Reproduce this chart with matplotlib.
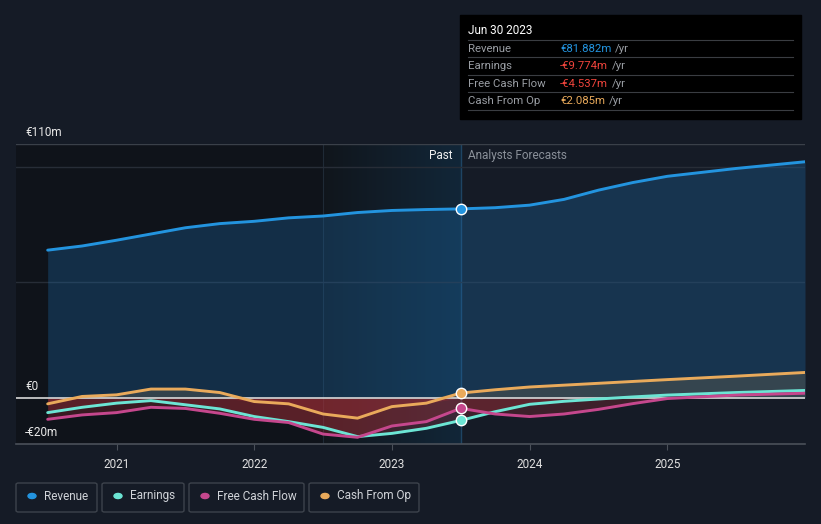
import numpy as np
import matplotlib
matplotlib.use('Agg')
import matplotlib.pyplot as plt
from matplotlib.patches import Rectangle, FancyBboxPatch, Circle
from matplotlib.lines import Line2D

plt.rcParams['font.family'] = ['Roboto', 'DejaVu Sans']

# quarterly history (fractional years) and forecast
past_t = [2020.5, 2020.75, 2021.0, 2021.25, 2021.5, 2021.75, 2022.0,
          2022.25, 2022.5, 2022.75, 2023.0, 2023.25, 2023.5]
revenue_past = [64.0, 65.8, 68.3, 71.0, 73.7, 75.5, 76.5, 78.0, 78.8, 80.3, 81.2, 81.6, 81.882]
earnings_past = [-6.4, -4.1, -2.3, -1.2, -3.0, -4.8, -8.1, -10.3, -12.8, -16.8, -15.4, -13.2, -9.774]
fcf_past = [-9.3, -7.4, -6.4, -4.1, -4.6, -6.7, -9.3, -10.7, -15.7, -17.1, -12.2, -10.3, -4.537]
cfo_past = [-2.6, 0.6, 1.3, 3.8, 3.8, 2.3, -1.6, -2.6, -7.0, -8.8, -3.8, -2.3, 2.085]

fc_t = [2023.5, 2023.75, 2024.0, 2024.25, 2024.5, 2024.75, 2025.0, 2025.5, 2026.0]
revenue_fc = [81.882, 82.4, 83.5, 86.0, 90.0, 93.3, 96.0, 99.4, 102.3]
earnings_fc = [-9.774, -6.0, -2.8, -1.5, -0.5, 0.4, 1.2, 2.3, 3.2]
fcf_fc = [-4.537, -7.0, -8.1, -7.0, -5.0, -2.5, -0.3, 1.2, 2.0]
cfo_fc = [2.085, 3.5, 4.7, 5.5, 6.3, 7.1, 7.9, 9.4, 11.0]

year_ticks = [2021, 2022, 2023, 2024, 2025]
names = ['Revenue', 'Earnings', 'Free Cash Flow', 'Cash From Op']
colors = ['#2394df', '#6ce5d4', '#c5478d', '#e9aa5b']
tip_vals = ['€81.882m', '-€9.774m', '-€4.537m', '€2.085m']
tip_cols = ['#2394df', '#f0443c', '#f0443c', '#e9aa5b']

bg = '#151b26'
fig = plt.figure(figsize=(8.21, 5.24), dpi=100, facecolor=bg)
ax = fig.add_axes([16 / 821, 1 - 444 / 524, 789 / 821, 300 / 524])
ax.set_facecolor(bg)
xmin, xmax = 2020.27, 2026.0
ax.set_xlim(xmin, xmax)
ax.set_ylim(-20, 110)

# darker past background and highlighted last year
ax.axvspan(xmin, 2023.5, color='#0f131a', zorder=0, lw=0)
grad = np.linspace(0, 1, 256).reshape(1, -1)
cmap = matplotlib.colors.LinearSegmentedColormap.from_list(
    'hl', [(0.065, 0.085, 0.11, 1.0), (0.07, 0.15, 0.22, 1.0)])
ax.imshow(grad, extent=[2022.5, 2023.5, -20, 110], aspect='auto', cmap=cmap,
          zorder=0.5, interpolation='bicubic')
ax.axvline(2022.5, color='#1f2a36', lw=0.8, zorder=0.6)
ax.axvline(2023.5, color='#1e4463', lw=1.0, zorder=0.6)

# grid
for v in [100, 50]:
    ax.axhline(v, color='#272d37', lw=1, zorder=0.7)
ax.axhline(110, color='#3a4049', lw=1, zorder=0.7)

all_t = past_t + fc_t[1:]
rev = revenue_past + revenue_fc[1:]
earn = earnings_past + earnings_fc[1:]
fcf = fcf_past + fcf_fc[1:]
cfo = cfo_past + cfo_fc[1:]
t = np.array(all_t)

# fills
ax.fill_between(t, rev, 0, color='#1e6fb0', alpha=0.3, lw=0, zorder=1)
for s in [earn, fcf, cfo]:
    s = np.array(s)
    ax.fill_between(t, np.minimum(s, 0), 0, color='#b8323a', alpha=0.25, lw=0, zorder=1.1)
ax.fill_between(t, np.maximum(np.array(cfo), 0), 0, color='#5a5a50', alpha=0.45, lw=0, zorder=1.1)

ax.axhline(0, color='#d8d8d8', lw=1.2, zorder=1.5)

series = [rev, earn, fcf, cfo]
for s, c in zip(series, colors):
    ax.plot(t, s, color=c, lw=2.1, zorder=3, solid_capstyle='round', solid_joinstyle='round')
for s, c in zip([revenue_past, earnings_past, fcf_past, cfo_past], colors):
    ax.plot(2023.5, s[-1], 'o', ms=7.5, color=c, mec='white', mew=1.0, zorder=4)

for sp in ['top', 'right', 'left']:
    ax.spines[sp].set_visible(False)
ax.spines['bottom'].set_color('#4a5059')
ax.spines['bottom'].set_linewidth(1.2)
ax.set_yticks([])
ax.set_xticks(year_ticks)
ax.set_xticklabels([str(y) for y in year_ticks], color='#e0e0e0', fontsize=8.5)
ax.tick_params(axis='x', length=4, color='#4a5059', pad=6)

# y labels
fig.text(25 / 821, 1 - 132 / 524, '€110m', color='#e8e8e8', fontsize=8.5, va='center')
fig.text(25 / 821, 1 - 386 / 524, '€0', color='#e8e8e8', fontsize=8.5, va='center')
fig.text(25 / 821, 1 - 432 / 524, '-€20m', color='#e8e8e8', fontsize=8.5, va='center')

fig.text(452 / 821, 1 - 156 / 524, 'Past', color='#f0f0f0', fontsize=8.5, ha='right', va='center')
fig.text(468 / 821, 1 - 156 / 524, 'Analysts Forecasts', color='#8a9099', fontsize=8.5,
         ha='left', va='center')

# tooltip
fig.patches.append(Rectangle((460 / 821, 1 - 119 / 524), 341 / 821, 104 / 524,
                             transform=fig.transFigure, color='#000000', zorder=5))
fig.text(468 / 821, 1 - 31 / 524, 'Jun 30 2023', color='white', fontsize=8.5, va='center', zorder=6)
rows_y = [49, 66, 84, 101]
for i, (n, v, c) in enumerate(zip(names, tip_vals, tip_cols)):
    yy = rows_y[i]
    fig.lines.append(Line2D([468 / 821, 793 / 821], [1 - (yy - 9) / 524] * 2,
                            transform=fig.transFigure, color='#3a3d42', lw=0.8, zorder=6))
    fig.text(468 / 821, 1 - yy / 524, n, color='#9a9ea4', fontsize=8.2, va='center', zorder=6)
    tx = fig.text(560 / 821, 1 - yy / 524, v, color=c, fontsize=8.2, va='center', zorder=6)
    fig.canvas.draw()
    bb = tx.get_window_extent()
    fig.text((bb.x1 + 4) / 821, 1 - yy / 524, '/yr', color='#9a9ea4', fontsize=8.2,
             va='center', zorder=6)
fig.lines.append(Line2D([468 / 821, 793 / 821], [1 - 110 / 524] * 2,
                        transform=fig.transFigure, color='#3a3d42', lw=0.8, zorder=6))

# legend boxes
boxes = [(16, 97), (102, 184), (189, 304), (309, 419)]
for (x0, x1), n, c in zip(boxes, names, colors):
    fig.patches.append(FancyBboxPatch((x0 / 821, 1 - 512 / 524), (x1 - x0) / 821, 29 / 524,
                                      boxstyle='round,pad=0,rounding_size=0.003',
                                      transform=fig.transFigure, fc='none', ec='#3d434c',
                                      lw=1.0))
    fig.patches.append(Circle(((x0 + 16) / 821, 1 - 496 / 524), 4 / 821,
                              transform=fig.transFigure, color=c))
    fig.text((x0 + 28) / 821, 1 - 496 / 524, n, color='#d0d3d8', fontsize=8.5, va='center')

fig.savefig('out.png', dpi=100, facecolor=bg)
